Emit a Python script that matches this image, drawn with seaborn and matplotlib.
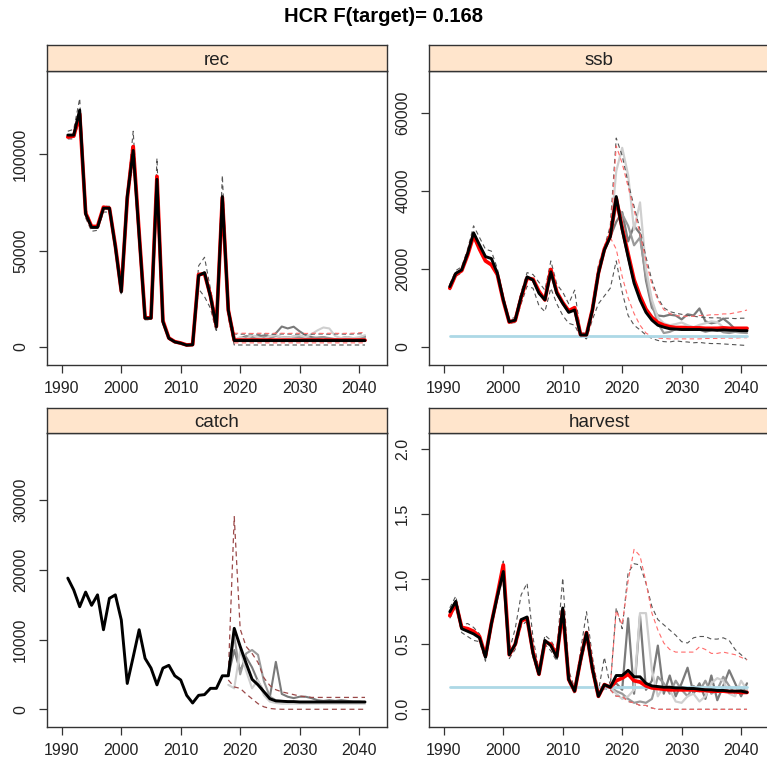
import matplotlib
matplotlib.use("Agg")
import matplotlib.pyplot as plt
import seaborn as sns

# ---------------- data ----------------
years = list(range(1991, 2042))
proj_years = list(range(2018, 2042))
xticks = [1990, 2000, 2010, 2020, 2030, 2040]

title = "HCR F(target)= 0.168"
panel_names = ["rec", "ssb", "catch", "harvest"]

# rec
rec_med = [110000, 110000, 123000, 69000, 62000, 62000, 72000, 72000, 52000, 28500,
           78000, 102000, 58000, 14800, 14800, 87000, 13000, 4400, 2500, 1800,
           800, 1000, 37000, 38500, 26000, 10400, 78000, 19000, 3200, 3200,
           3200, 3200, 3200, 3200, 3200, 3200, 3200, 3200, 3200, 3200,
           3200, 3200, 3200, 3200, 3200, 3200, 3200, 3200, 3200, 3200, 3200]
rec_med_red = [109000, 109500, 121000, 69500, 62500, 62500, 72500, 72000, 52500, 29000,
               77000, 104000, 59000, 15000, 15000, 88500, 13500, 4500, 2600, 1900,
               900, 1100, 37500, 38000, 26500, 10600, 77500, 19000, 3400, 3400,
               3400, 3400, 3400, 3400, 3400, 3400, 3400, 3400, 3400, 3400,
               3400, 3400, 3400, 3400, 3400, 3400, 3400, 3400, 3400, 3400, 3400]
rec_hi = [112000, 113000, 129000, 72000, 63000, 63000, 73000, 73000, 53000, 30000,
          80000, 112000, 62000, 15500, 15500, 98000, 14000, 5000, 3000, 2200,
          1200, 1500, 42000, 46500, 30000, 13000, 89000, 20000, 6600, 6500,
          6600, 6600, 6500, 6600, 6600, 6500, 6600, 6600, 6500, 6600,
          6600, 6500, 6600, 6600, 6500, 6600, 6600, 6500, 6600, 6700, 6800]
rec_lo = [108000, 108000, 118000, 67000, 60000, 60500, 70000, 70000, 50000, 27000,
          75000, 96000, 55000, 14000, 14000, 80000, 12000, 4000, 2200, 1500,
          600, 700, 30000, 26000, 20000, 7500, 70000, 15000, 900, 900,
          900, 900, 900, 900, 900, 900, 900, 900, 900, 900,
          900, 900, 900, 900, 900, 900, 900, 900, 900, 900, 900]
rec_hi_red = [19000, 7000, 7000, 7000, 6900, 7000, 7000, 6900, 7000, 7000, 6900, 7000,
              7000, 6900, 7000, 7000, 6900, 7000, 7000, 6900, 7000, 7000, 7200, 7500]
rec_lo_red = [18000, 2000, 2000, 2000, 2000, 2000, 2000, 2000, 2000, 2000, 2000, 2000,
              2000, 2000, 2000, 2000, 2000, 2000, 2000, 2000, 2000, 2000, 2000, 2000]
rec_it1 = [19000, 3500, 4500, 5500, 5000, 5500, 5800, 5200, 7000, 10500, 9500, 10400,
           8000, 6000, 5000, 4500, 5000, 4000, 3500, 4500, 5000, 4000, 4500, 5500]
rec_it2 = [19000, 3500, 4000, 5000, 4500, 4000, 5000, 4500, 5500, 5000, 4800, 5200,
           5000, 4500, 4200, 4800, 5000, 4500, 4000, 4300, 4800, 4500, 4200, 4600]
rec_it3 = [19000, 3500, 5000, 4000, 6000, 5000, 4000, 5500, 6000, 5000, 4500, 5500,
           6000, 5000, 6500, 8500, 10000, 9500, 5500, 4500, 5000, 4500, 5000, 6000]

# ssb
ssb_med = [15400, 18800, 19700, 23900, 29200, 26100, 23100, 22600, 18800, 12000,
           6400, 6800, 12800, 17900, 17100, 13700, 12000, 19200, 13700, 11100,
           8800, 9400, 3000, 3000, 9400, 18800, 24800, 28200, 38500, 30000,
           23000, 16300, 12000, 8800, 6800, 5500, 5000, 4600, 4500, 4400,
           4400, 4400, 4400, 4300, 4300, 4200, 4300, 4200, 4200, 4100, 4100]
ssb_med_red = [15000, 18500, 19500, 23500, 28500, 25000, 22000, 21000, 18500, 11800,
               6300, 6700, 12600, 17600, 17300, 14200, 12000, 19800, 14000, 11300,
               9200, 10000, 3100, 3100, 9600, 18900, 25000, 28500, 38000, 30500,
               23800, 17200, 13000, 9600, 7500, 6200, 5500, 5100, 4900, 4900,
               4800, 4800, 4800, 4700, 4700, 4700, 4800, 4700, 4700, 4700, 4700]
ssb_hi = [16000, 19500, 20500, 25000, 31000, 28000, 25000, 24500, 20000, 13000,
          7000, 7500, 14000, 19000, 18500, 16500, 14500, 22000, 16000, 14000,
          11000, 14500, 3500, 3500, 11000, 21000, 25500, 31000, 53500, 49000,
          42000, 36000, 30000, 23000, 17000, 12500, 10000, 9000, 8600, 8300,
          8000, 7800, 7600, 7500, 7400, 7400, 7300, 7300, 7200, 7300, 7300]
ssb_lo = [14500, 18000, 19000, 23000, 28000, 25000, 22000, 21000, 18000, 11500,
          6000, 6200, 11000, 15500, 15000, 10500, 9000, 15000, 11000, 8000,
          6000, 5500, 2500, 2000, 7000, 11000, 13000, 15000, 22000, 14000,
          8000, 5500, 4300, 3000, 2100, 1600, 1300, 1200, 1500, 1300,
          1200, 1000, 1100, 900, 800, 800, 700, 600, 500, 400, 300]
ssb_hi_red = [29000, 51500, 47000, 41000, 35000, 29000, 22000, 16000, 12000, 9500, 8500, 8000,
              7800, 7800, 7800, 8000, 8000, 8200, 8200, 8400, 8400, 8700, 9000, 9400]
ssb_lo_red = [28000, 25000, 18000, 12500, 8500, 5500, 3500, 2600, 2200, 2100, 2000, 2000,
              2000, 2000, 2000, 2000, 2100, 2100, 2100, 2200, 2200, 2200, 2300, 2300]
ssb_it1 = [28200, 32000, 34500, 27000, 31000, 29000, 17000, 10000, 8000, 7800, 8200, 8000,
           7000, 8300, 8000, 9800, 6500, 6000, 6300, 7200, 6000, 4500, 4200, 4000]
ssb_it2 = [28200, 36000, 34000, 31000, 26000, 28000, 18000, 11000, 6000, 3500, 3800, 4500,
           5000, 5200, 4800, 4400, 3800, 4200, 4600, 3700, 3500, 3800, 3600, 3500]
ssb_it3 = [28200, 45000, 51000, 44000, 30000, 37000, 20000, 12000, 7500, 6000, 5500, 5800,
           6200, 5500, 5000, 5600, 6000, 6500, 6300, 5000, 4800, 4500, 4400, 4300]
ssb_ref = 2750

# catch
catch_med = [18800, 17100, 14700, 16800, 14900, 16400, 11400, 15900, 16400, 12800,
             3700, 7500, 11400, 7300, 5900, 3500, 5900, 6300, 4800, 4200,
             2000, 900, 2000, 2100, 3000, 3000, 4800, 4800, 11600, 9000,
             6600, 4300, 3500, 2500, 1500, 1200, 1150, 1100, 1100, 1050,
             1050, 1050, 1050, 1050, 1050, 1050, 1050, 1050, 1050, 1050, 1050]
catch_hi = [5000, 27600, 11500, 9000, 8000, 6700, 4500, 3400, 2800, 2500, 2300, 2100,
            1900, 1800, 1700, 1700, 1700, 1700, 1700, 1700, 1700, 1700, 1700, 1700]
catch_lo = [4200, 3200, 3000, 2200, 1500, 800, 350, 120, 30, 0, 0, 0,
            0, 0, 0, 0, 0, 0, 0, 0, 0, 0, 0, 0]
catch_it1 = [4800, 8500, 5500, 7500, 6000, 4000, 2500, 1800, 6800, 2200, 1800, 1600,
             1800, 1800, 1600, 1300, 1200, 1300, 1200, 1300, 1200, 1100, 1100, 1000]
catch_it2 = [4800, 10500, 5000, 8000, 8500, 7800, 4000, 1800, 1300, 1200, 1100, 1000,
             900, 900, 900, 900, 900, 900, 900, 900, 900, 900, 900, 900]
catch_it3 = [3500, 3000, 8500, 5500, 3000, 4200, 2000, 1100, 900, 800, 800, 800,
             800, 800, 800, 800, 800, 800, 800, 800, 800, 800, 800, 800]

# harvest
harv_med = [0.75, 0.83, 0.62, 0.60, 0.58, 0.55, 0.40, 0.66, 0.87, 1.06,
            0.42, 0.50, 0.69, 0.71, 0.43, 0.27, 0.53, 0.49, 0.40, 0.78,
            0.23, 0.14, 0.38, 0.59, 0.31, 0.10, 0.19, 0.17, 0.26, 0.26,
            0.30, 0.25, 0.25, 0.20, 0.18, 0.175, 0.17, 0.17, 0.165, 0.165,
            0.16, 0.16, 0.155, 0.15, 0.15, 0.145, 0.145, 0.14, 0.14, 0.14, 0.13]
harv_med_red = [0.72, 0.82, 0.63, 0.62, 0.60, 0.56, 0.41, 0.66, 0.88, 1.11,
                0.42, 0.50, 0.68, 0.70, 0.44, 0.27, 0.52, 0.50, 0.41, 0.76,
                0.23, 0.14, 0.38, 0.59, 0.31, 0.10, 0.19, 0.17, 0.22, 0.24,
                0.27, 0.22, 0.21, 0.18, 0.165, 0.16, 0.155, 0.15, 0.15, 0.15,
                0.15, 0.15, 0.145, 0.145, 0.14, 0.14, 0.14, 0.135, 0.135, 0.13, 0.13]
harv_hi = [0.78, 0.87, 0.65, 0.66, 0.63, 0.58, 0.42, 0.68, 0.90, 1.14,
           0.45, 0.62, 0.88, 0.97, 0.55, 0.30, 0.57, 0.53, 0.45, 1.01,
           0.30, 0.16, 0.45, 0.75, 0.40, 0.14, 0.40, 0.18, 0.78, 0.62,
           1.05, 1.12, 1.11, 0.97, 0.79, 0.69, 0.65, 0.61, 0.57, 0.52,
           0.51, 0.55, 0.56, 0.56, 0.54, 0.54, 0.55, 0.53, 0.46, 0.42, 0.38]
harv_lo = [0.70, 0.79, 0.59, 0.56, 0.53, 0.52, 0.37, 0.63, 0.84, 1.02,
           0.39, 0.46, 0.64, 0.68, 0.40, 0.25, 0.50, 0.45, 0.37, 0.74,
           0.21, 0.12, 0.34, 0.55, 0.27, 0.09, 0.16, 0.15, 0.10, 0.10,
           0.06, 0.05, 0.03, 0.03, 0.01, 0.0, 0.0, 0.0, 0.0, 0.0,
           0.0, 0.0, 0.0, 0.0, 0.0, 0.0, 0.0, 0.0, 0.0, 0.0, 0.0]
harv_hi_red = [0.18, 0.76, 0.65, 0.99, 1.23, 1.18, 0.98, 0.74, 0.61, 0.51, 0.46, 0.44,
               0.44, 0.44, 0.44, 0.48, 0.46, 0.43, 0.43, 0.44, 0.43, 0.42, 0.40, 0.38]
harv_lo_red = [0.15, 0.10, 0.10, 0.06, 0.05, 0.03, 0.03, 0.01, 0.0, 0.0, 0.0, 0.0,
               0.0, 0.0, 0.0, 0.0, 0.0, 0.0, 0.0, 0.0, 0.0, 0.0, 0.0, 0.0]
harv_it1 = [0.17, 0.20, 0.15, 0.70, 0.12, 0.72, 0.15, 0.22, 0.49, 0.12, 0.26, 0.10,
            0.20, 0.32, 0.12, 0.20, 0.08, 0.26, 0.07, 0.18, 0.30, 0.20, 0.10, 0.20]
harv_it2 = [0.17, 0.14, 0.12, 0.08, 0.05, 0.06, 0.05, 0.08, 0.25, 0.20, 0.12, 0.22,
            0.15, 0.10, 0.18, 0.14, 0.22, 0.12, 0.15, 0.25, 0.18, 0.12, 0.15, 0.14]
harv_it3 = [0.17, 0.12, 0.08, 0.10, 0.15, 0.74, 0.74, 0.30, 0.10, 0.18, 0.15, 0.06,
            0.05, 0.10, 0.12, 0.06, 0.10, 0.20, 0.24, 0.22, 0.12, 0.10, 0.22, 0.15]
harv_ref = 0.168

# ---------------- style ----------------
sns.set_style("white")
plt.rcParams['font.family'] = ['Liberation Sans', 'DejaVu Sans']

W = 767.0
fig = plt.figure(figsize=(7.67, 7.67), dpi=100)


def rect(x0, y0, x1, y1):
    return [x0 / W, 1 - y1 / W, (x1 - x0) / W, (y1 - y0) / W]


FRAME = "#333333"
STRIP = "#ffe5cc"
GREY_D = "#555555"
RED_D = "#ff6b6b"
IT_COLS = ["#7a7a7a", "#9a9a9a", "#cfcfcf"]


def make_panel(px_box, strip_box, name, ylim, yticks, yticklabels):
    ax = fig.add_axes(rect(*px_box))
    sax = fig.add_axes(rect(*strip_box))
    sax.set_facecolor(STRIP)
    sax.set_xticks([])
    sax.set_yticks([])
    for s in sax.spines.values():
        s.set_color(FRAME)
        s.set_linewidth(1.0)
    sax.text(0.5, 0.42, name, ha="center", va="center", fontsize=13.5,
             color="#222222", transform=sax.transAxes)
    ax.set_xlim(1987.5, 2044.7)
    ax.set_ylim(*ylim)
    ax.set_xticks(xticks)
    ax.set_xticklabels([str(x) for x in xticks])
    ax.set_yticks(yticks)
    ax.set_yticklabels(yticklabels)
    for s in ax.spines.values():
        s.set_color(FRAME)
        s.set_linewidth(1.0)
    ax.tick_params(axis="both", direction="out", length=5.5, width=0.9,
                   color=FRAME, labelsize=11.5, labelcolor="#222222")
    ax.tick_params(axis="x", pad=6)
    ax.tick_params(axis="y", pad=8, labelrotation=90)
    for lab in ax.get_yticklabels():
        lab.set_va("center")
    ax.tick_params(left=True, bottom=True)
    ax.set_xlabel("")
    ax.set_ylabel("")
    return ax


def line(ax, x, y, color, lw, ls="-"):
    sns.lineplot(x=x, y=y, ax=ax, color=color, linewidth=lw, linestyle=ls,
                 estimator=None, legend=False)


DASH = (0, (4, 3))
LW_BLACK = 2.1
LW_RED = 2.7

# panel boxes in pixels
TL = (47, 71, 387, 365); TLs = (47, 45, 387, 71)
TR = (429, 71, 769, 365); TRs = (429, 45, 769, 71)
BL = (47, 433, 387, 727); BLs = (47, 408, 387, 433)
BR = (429, 433, 769, 727); BRs = (429, 408, 769, 433)

# ---- rec ----
ax = make_panel(TL, TLs, panel_names[0], (-9500, 143300), [0, 50000, 100000],
                ["0", "50000", "100000"])
for it, c in zip([rec_it1, rec_it2, rec_it3], IT_COLS):
    line(ax, proj_years, it, c, 1.5)
line(ax, years, rec_hi, GREY_D, 0.8, DASH)
line(ax, years, rec_lo, GREY_D, 0.8, DASH)
line(ax, proj_years, rec_hi_red, RED_D, 0.8, DASH)
line(ax, proj_years, rec_lo_red, RED_D, 0.8, DASH)
line(ax, years, rec_med_red, "red", LW_RED)
line(ax, years, rec_med, "black", LW_BLACK)

# ---- ssb ----
ax = make_panel(TR, TRs, panel_names[1], (-4700, 70700), [0, 20000, 40000, 60000],
                ["0", "20000", "40000", "60000"])
for it, c in zip([ssb_it1, ssb_it2, ssb_it3], IT_COLS):
    line(ax, proj_years, it, c, 1.6)
line(ax, years, ssb_hi, GREY_D, 0.8, DASH)
line(ax, years, ssb_lo, GREY_D, 0.8, DASH)
line(ax, proj_years, ssb_hi_red, RED_D, 0.8, DASH)
line(ax, proj_years, ssb_lo_red, RED_D, 0.8, DASH)
line(ax, [years[0], years[-1]], [ssb_ref, ssb_ref], "#add8e6", 2.0)
line(ax, years, ssb_med_red, "red", LW_RED)
line(ax, years, ssb_med, "black", LW_BLACK)

# ---- catch ----
ax = make_panel(BL, BLs, panel_names[2], (-2540, 39600), [0, 10000, 20000, 30000],
                ["0", "10000", "20000", "30000"])
for it, c in zip([catch_it1, catch_it2, catch_it3], IT_COLS):
    line(ax, proj_years, it, c, 1.5)
line(ax, proj_years, catch_hi, "#9a4848", 0.9, DASH)
line(ax, proj_years, catch_lo, "#9a4848", 0.9, DASH)
line(ax, years, catch_med, "black", LW_BLACK)

# ---- harvest ----
ax = make_panel(BR, BRs, panel_names[3], (-0.136, 2.125), [0, 0.5, 1.0, 1.5, 2.0],
                ["0.0", "0.5", "1.0", "1.5", "2.0"])
for it, c in zip([harv_it1, harv_it2, harv_it3], IT_COLS):
    line(ax, proj_years, it, c, 1.6)
line(ax, years, harv_hi, GREY_D, 0.8, DASH)
line(ax, years, harv_lo, GREY_D, 0.8, DASH)
line(ax, proj_years, harv_hi_red, RED_D, 0.8, DASH)
line(ax, proj_years, harv_lo_red, RED_D, 0.8, DASH)
line(ax, [years[0], years[-1]], [harv_ref, harv_ref], "#add8e6", 2.0)
line(ax, years, harv_med_red, "red", LW_RED)
line(ax, years, harv_med, "black", LW_BLACK)

fig.text(0.5, 1 - 17 / W, title, ha="center", va="center", fontsize=14.5,
         fontweight="bold", color="black")

fig.savefig("out.png", dpi=100)
